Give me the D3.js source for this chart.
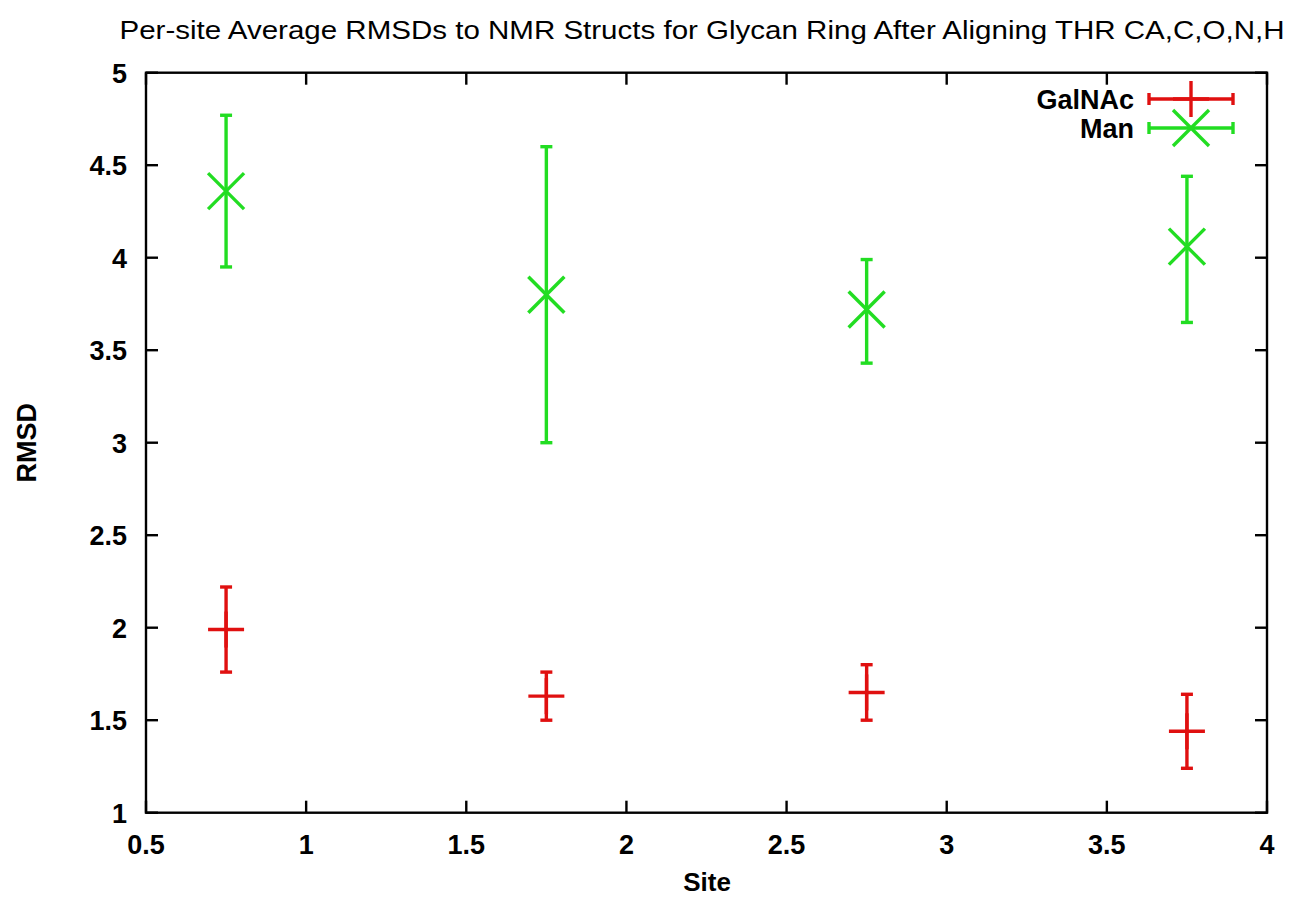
<!DOCTYPE html>
<html><head><meta charset="utf-8">
<script src="https://cdn.jsdelivr.net/npm/d3@7"></script>
<style>body{margin:0;background:#fff}svg{display:block}text{font-family:"Liberation Sans",Arial,sans-serif;fill:#000}</style>
</head><body><svg id="c" width="1289" height="900"></svg>
<script>
const sites = [0.75, 1.75, 2.75, 3.75];
const galMean = [1.99, 1.63, 1.65, 1.44];
const galLow  = [1.76, 1.50, 1.50, 1.24];
const galHigh = [2.22, 1.76, 1.80, 1.64];
const manMean = [4.36, 3.80, 3.72, 4.06];
const manLow  = [3.95, 3.00, 3.43, 3.65];
const manHigh = [4.77, 4.60, 3.99, 4.44];
const xTicks = [0.5, 1, 1.5, 2, 2.5, 3, 3.5, 4];
const yTicks = [1, 1.5, 2, 2.5, 3, 3.5, 4, 4.5, 5];
const seriesNames = ["GalNAc", "Man"];
const colors = ["#e01010", "#22dd22"];

const svg = d3.select("#c");
const L=146, R=1267, T=72.7, B=812.7;
const x = d3.scaleLinear().domain([0.5,4]).range([L,R]);
const y = d3.scaleLinear().domain([1,5]).range([B,T]);

svg.append("text").attr("x",702).attr("y",39).attr("text-anchor","middle")
  .attr("font-size",26).attr("textLength",1165).attr("lengthAdjust","spacingAndGlyphs")
  .text("Per-site Average RMSDs to NMR Structs for Glycan Ring After Aligning THR CA,C,O,N,H");

const tk = 12;
const ax = svg.append("g").attr("stroke","#000").attr("stroke-width",2.4);
xTicks.forEach(t=>{
  ax.append("line").attr("x1",x(t)).attr("x2",x(t)).attr("y1",B).attr("y2",B-tk);
  ax.append("line").attr("x1",x(t)).attr("x2",x(t)).attr("y1",T).attr("y2",T+tk);
});
yTicks.forEach(t=>{
  ax.append("line").attr("x1",L).attr("x2",L+tk).attr("y1",y(t)).attr("y2",y(t));
  ax.append("line").attr("x1",R).attr("x2",R-tk).attr("y1",y(t)).attr("y2",y(t));
});
ax.append("rect").attr("x",L).attr("y",T).attr("width",R-L).attr("height",B-T).attr("fill","none");

const lab = svg.append("g").attr("font-size",27).attr("font-weight","bold");
xTicks.forEach(t=>lab.append("text").attr("x",x(t)).attr("y",B+41).attr("text-anchor","middle").text(t));
yTicks.forEach(t=>lab.append("text").attr("x",L-19).attr("y",y(t)+10).attr("text-anchor","end").text(t));

svg.append("text").attr("x",707).attr("y",891).attr("text-anchor","middle").attr("font-size",26).attr("font-weight","bold").text("Site");
svg.append("text").attr("transform","translate(36,"+((T+B)/2)+") rotate(-90)").attr("text-anchor","middle").attr("font-size",27).attr("font-weight","bold").text("RMSD");

function errbar(g, cx, lo, hi){
  const cap=6;
  g.append("line").attr("x1",cx).attr("x2",cx).attr("y1",lo).attr("y2",hi);
  g.append("line").attr("x1",cx-cap).attr("x2",cx+cap).attr("y1",lo).attr("y2",lo);
  g.append("line").attr("x1",cx-cap).attr("x2",cx+cap).attr("y1",hi).attr("y2",hi);
}
function plus(g,cx,cy){const s=18;
  g.append("line").attr("x1",cx-s).attr("x2",cx+s).attr("y1",cy).attr("y2",cy);
  g.append("line").attr("x1",cx).attr("x2",cx).attr("y1",cy-s).attr("y2",cy+s);}
function cross(g,cx,cy){const s=18;
  g.append("line").attr("x1",cx-s).attr("x2",cx+s).attr("y1",cy-s).attr("y2",cy+s);
  g.append("line").attr("x1",cx-s).attr("x2",cx+s).attr("y1",cy+s).attr("y2",cy-s);}

const data = [[galMean,galLow,galHigh,plus],[manMean,manLow,manHigh,cross]];
data.forEach((d,i)=>{
  const g = svg.append("g").attr("stroke",colors[i]).attr("stroke-width",3.4);
  sites.forEach((s,j)=>{
    errbar(g, x(s), y(d[1][j]), y(d[2][j]));
    d[3](g, x(s), y(d[0][j]));
  });
  const ly = 99 + i*29;
  svg.append("text").attr("x",1134).attr("y",ly+10).attr("text-anchor","end").attr("font-size",27).attr("font-weight","bold").text(seriesNames[i]);
  const lg = svg.append("g").attr("stroke",colors[i]).attr("stroke-width",3.4);
  lg.append("line").attr("x1",1149).attr("x2",1233).attr("y1",ly).attr("y2",ly);
  lg.append("line").attr("x1",1149).attr("x2",1149).attr("y1",ly-6).attr("y2",ly+6);
  lg.append("line").attr("x1",1233).attr("x2",1233).attr("y1",ly-6).attr("y2",ly+6);
  d[3](lg, 1191, ly);
});
</script></body></html>
